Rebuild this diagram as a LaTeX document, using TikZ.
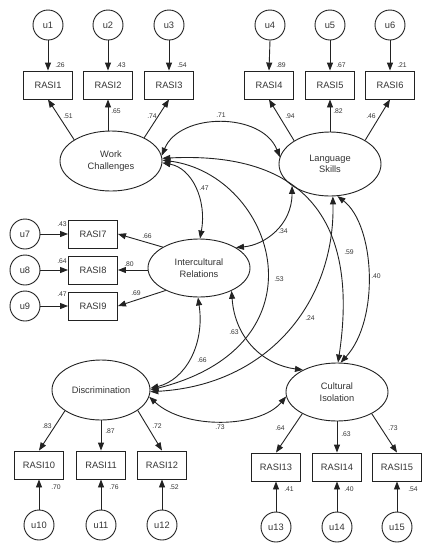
\documentclass[tikz,border=0pt]{standalone}
\usepackage{fontspec}
\setmainfont{Liberation Sans}
\usetikzlibrary{shapes.geometric,arrows.meta,calc}
\definecolor{ink}{HTML}{222222}
\definecolor{txt}{HTML}{333333}
\tikzset{
  lat/.style={ellipse, draw=ink, line width=0.9pt, minimum width=102pt, minimum height=60pt, inner sep=0pt, align=center, text=txt, font=\fontsize{9.3}{11.5}\selectfont},
  obs/.style={rectangle, draw=ink, line width=0.9pt, minimum width=49pt, minimum height=28pt, inner sep=0pt, text=txt, font=\fontsize{9.3}{11}\selectfont},
  err/.style={circle, draw=ink, line width=0.9pt, minimum size=30pt, inner sep=0pt, text=txt, font=\fontsize{9.3}{11}\selectfont},
  lbl/.style={inner sep=0pt, text=txt, font=\fontsize{6.8}{7}\selectfont},
  pth/.style={draw=ink, line width=0.9pt, -{Triangle[length=8pt,width=6pt]}},
  cov/.style={draw=ink, line width=0.9pt, {Triangle[length=8pt,width=6pt]}-{Triangle[length=8pt,width=6pt]}}
}
\begin{document}
\begin{tikzpicture}[x=1pt,y=-1pt]
\useasboundingbox (0,0) rectangle (433,550);
% error terms and indicators, top
\node[err] (u1) at (48,25) {u1};
\node[err] (u2) at (108,25) {u2};
\node[err] (u3) at (169,25) {u3};
\node[err] (u4) at (270,25) {u4};
\node[err] (u5) at (330,25) {u5};
\node[err] (u6) at (390,25) {u6};
\node[obs] (r1) at (48,85) {RASI1};
\node[obs] (r2) at (108,85) {RASI2};
\node[obs] (r3) at (169,85) {RASI3};
\node[obs] (r4) at (269,85) {RASI4};
\node[obs] (r5) at (330,85) {RASI5};
\node[obs] (r6) at (390,85) {RASI6};
% latent
\node[lat] (wc) at (111,161) {Work\\Challenges};
\node[lat, minimum height=64pt] (ls) at (330,164) {Language\\Skills};
\node[lat, minimum height=58pt] (ir) at (199,268) {Intercultural\\Relations};
\node[lat, minimum width=98pt] (d) at (101,390) {Discrimination};
\node[lat, minimum height=58pt] (ci) at (337,392) {Cultural\\Isolation};
% left
\node[err] (u7) at (25,234) {u7};
\node[err] (u8) at (25,270) {u8};
\node[err] (u9) at (25,306) {u9};
\node[obs] (r7) at (93,234) {RASI7};
\node[obs] (r8) at (93,270) {RASI8};
\node[obs] (r9) at (93,306) {RASI9};
% bottom
\node[obs] (r10) at (39,465) {RASI10};
\node[obs] (r11) at (101,465) {RASI11};
\node[obs] (r12) at (162,465) {RASI12};
\node[obs] (r13) at (276,467) {RASI13};
\node[obs] (r14) at (337,467) {RASI14};
\node[obs] (r15) at (397,467) {RASI15};
\node[err] (u10) at (39,525) {u10};
\node[err] (u11) at (101,525) {u11};
\node[err] (u12) at (162,525) {u12};
\node[err] (u13) at (276,527) {u13};
\node[err] (u14) at (337,527) {u14};
\node[err] (u15) at (397,527) {u15};
% error arrows
\foreach \i in {1,...,6} {\draw[pth] (u\i.south) -- (r\i.north);}
\foreach \i in {7,8,9} {\draw[pth] (u\i.east) -- (r\i.west);}
\foreach \i in {10,...,15} {\draw[pth] (u\i.north) -- (r\i.south);}
% loadings
\draw[pth] (wc.150) -- (r1.south);
\draw[pth] (wc.north -| r2) -- (r2.south);
\draw[pth] (wc.35) -- (r3.south);
\draw[pth] (ls.147) -- (r4.south);
\draw[pth] (ls.north) -- (r5.south);
\draw[pth] (ls.34) -- (r6.south);
\draw[pth] (ir.150) -- (r7.east);
\draw[pth] (ir.west |- r8) -- (r8.east);
\draw[pth] (ir.214) -- (r9.east);
\draw[pth] (d.210) -- (r10.north);
\draw[pth] (d.south) -- (r11.north);
\draw[pth] (d.331) -- (r12.north);
\draw[pth] (ci.212) -- (r13.north);
\draw[pth] (ci.south) -- (r14.north);
\draw[pth] (ci.328) -- (r15.north);
% covariances
\draw[cov] (wc.6) .. controls (180,112) and (262,112) .. (ls.172);
\draw[cov] (wc.-2) .. controls (192,168) and (207,200) .. (ir.88);
\draw[cov] (wc.1) .. controls (275,175) and (330,345) .. (d.0);
\draw[cov] (wc.3) .. controls (330,150) and (355,250) .. (ci.88);
\draw[cov] (ls.210) .. controls (292,225) and (265,245) .. (ir.29);
\draw[cov] (ls.275) .. controls (335,300) and (270,385) .. (d.-2);
\draw[cov] (ls.283) .. controls (375,225) and (380,320) .. (ci.83);
\draw[cov] (ir.268) .. controls (205,345) and (185,380) .. (d.2);
\draw[cov] (ir.-35) .. controls (235,340) and (265,365) .. (ci.147);
\draw[cov] (d.-8) .. controls (185,430) and (260,428) .. (ci.185);
% labels
\node[lbl] (a1) at (60,65) {.26};
\node[lbl] (a2) at (121,65) {.43};
\node[lbl] (a3) at (182,65) {.54};
\node[lbl] (a4) at (281,65) {.89};
\node[lbl] (a5) at (341,65) {.67};
\node[lbl] (a6) at (402,65) {.21};
\node[lbl] (b1) at (68,116) {.51};
\node[lbl] (b2) at (116,111) {.65};
\node[lbl] (b3) at (152,116) {.74};
\node[lbl] (b4) at (290,116) {.94};
\node[lbl] (b5) at (338,111) {.82};
\node[lbl] (b6) at (371,116) {.46};
\node[lbl] (c1) at (221,115) {.71};
\node[lbl] (c2) at (204,188) {.47};
\node[lbl] (c3) at (283,231) {.34};
\node[lbl] (c4) at (279,279) {.53};
\node[lbl] (c5) at (349,252) {.59};
\node[lbl] (c6) at (376,276) {.40};
\node[lbl] (c7) at (310,318) {.24};
\node[lbl] (c8) at (234,332) {.63};
\node[lbl] (c9) at (202,360) {.66};
\node[lbl] (c10) at (220,427) {.73};
\node[lbl] (e1) at (62,224) {.43};
\node[lbl] (e2) at (62,261) {.64};
\node[lbl] (e3) at (62,294) {.47};
\node[lbl] (f1) at (147,236) {.66};
\node[lbl] (f2) at (129,264) {.80};
\node[lbl] (f3) at (136,293) {.69};
\node[lbl] (g1) at (47,426) {.83};
\node[lbl] (g2) at (110,431) {.87};
\node[lbl] (g3) at (157,426) {.72};
\node[lbl] (g4) at (56,487) {.70};
\node[lbl] (g5) at (114,487) {.76};
\node[lbl] (g6) at (174,487) {.52};
\node[lbl] (h1) at (280,428) {.64};
\node[lbl] (h2) at (346,434) {.63};
\node[lbl] (h3) at (393,428) {.73};
\node[lbl] (h4) at (289,489) {.41};
\node[lbl] (h5) at (349,489) {.40};
\node[lbl] (h6) at (413,489) {.54};
\end{tikzpicture}
\end{document}
